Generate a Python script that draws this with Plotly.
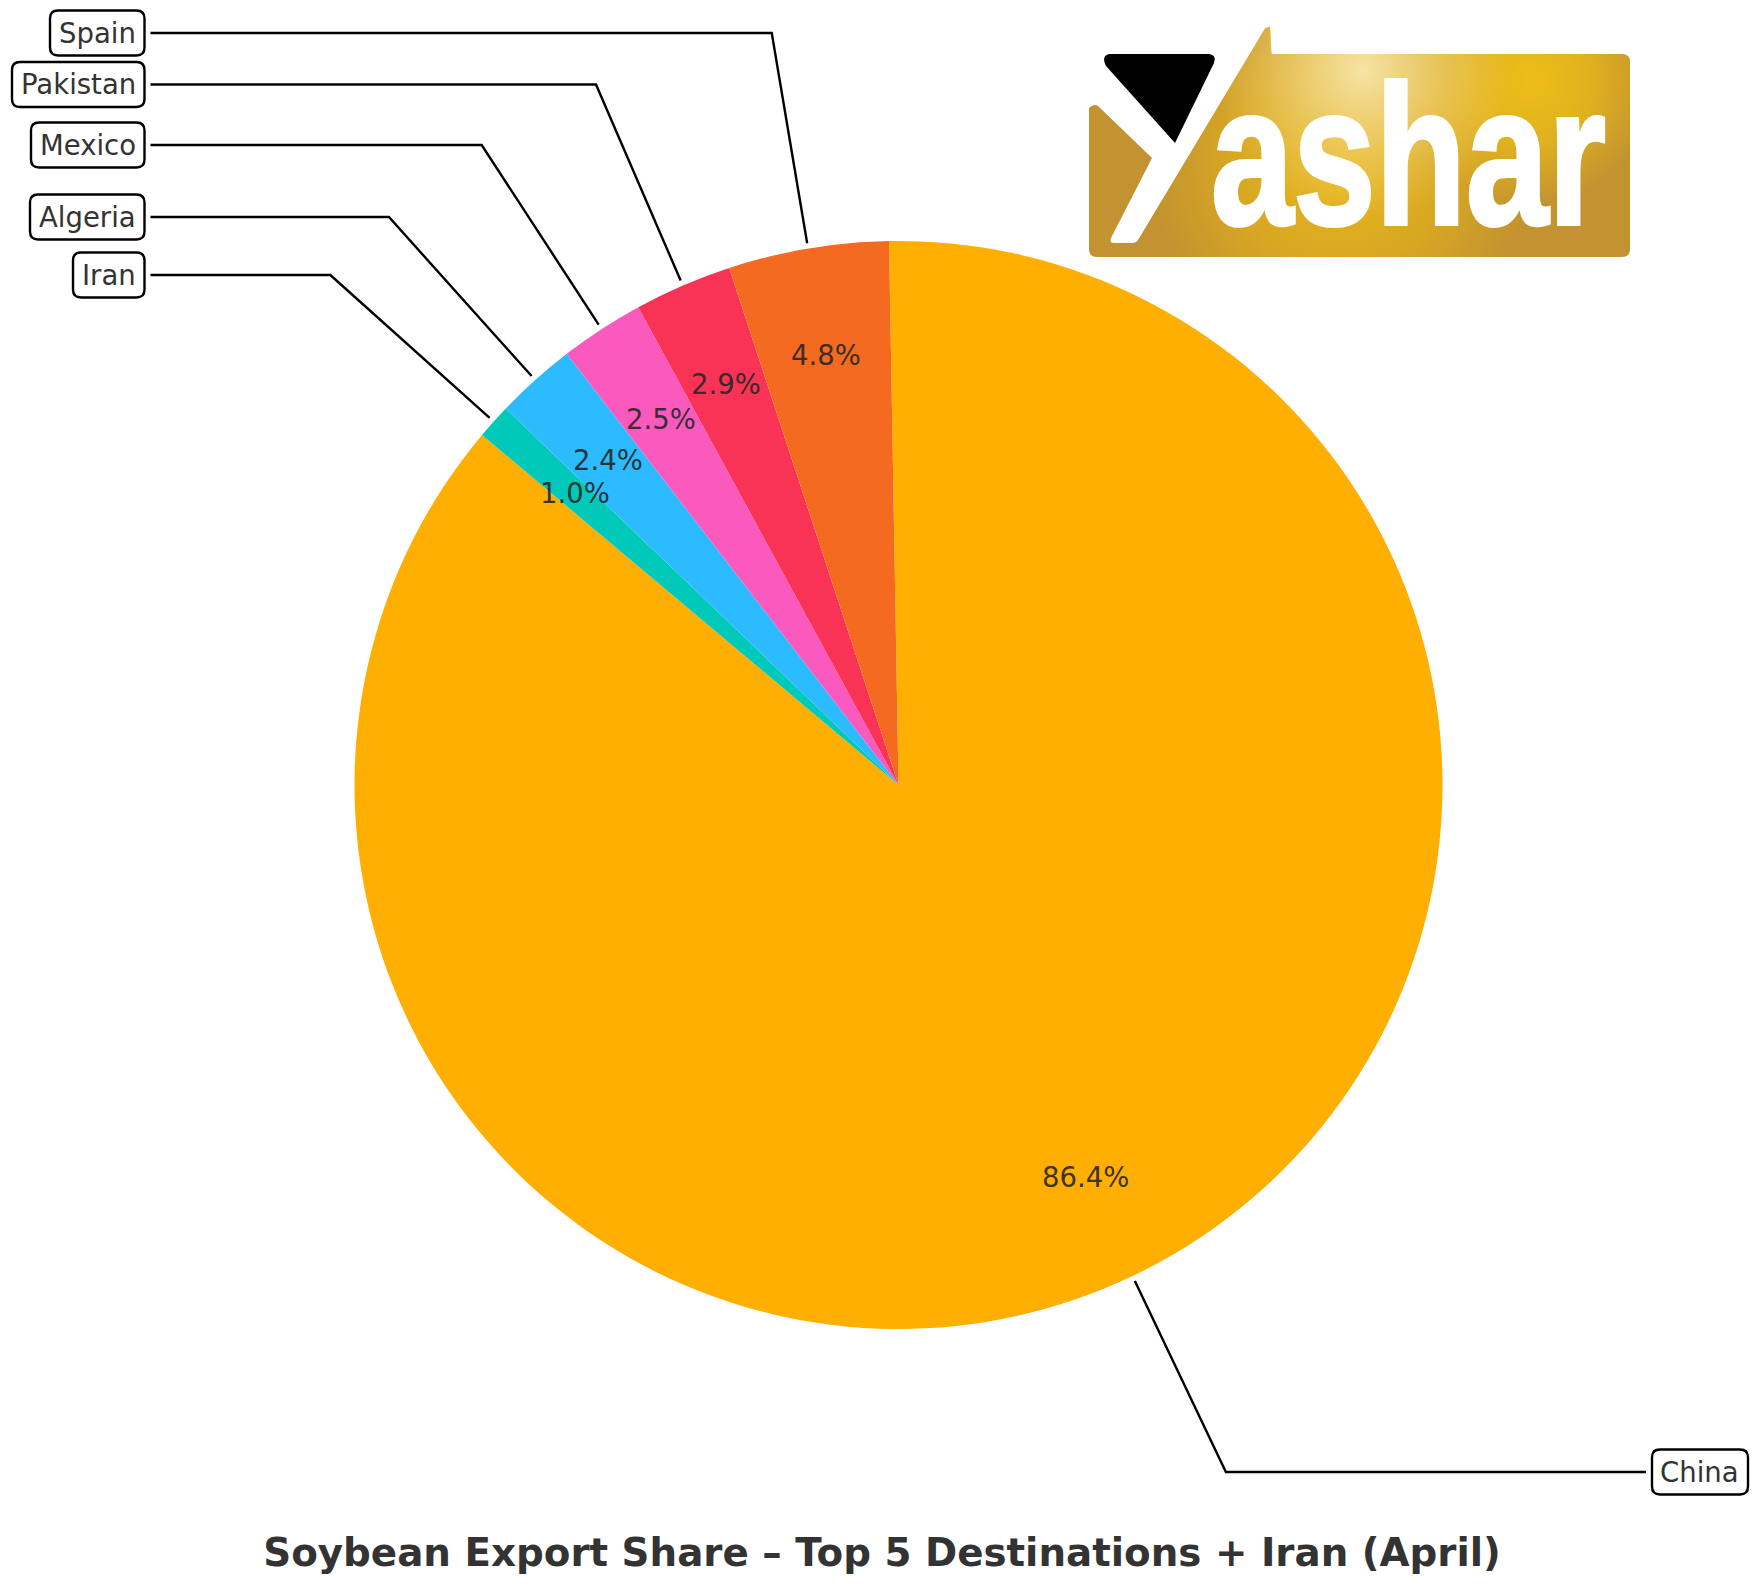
import base64
import math
import plotly.graph_objects as go

countries = ["China", "Iran", "Algeria", "Mexico", "Pakistan", "Spain"]
shares = [86.4, 1.04, 2.4, 2.5, 2.9, 4.76]
colors = ["#FFAE02", "#00C9BA", "#2BBBFE", "#FA59BE", "#F93356", "#F46A21"]

W, H = 1760, 1592
CX, CY, R = 898.5, 785.0, 544.0
START_ANGLE = -1.0

# callout boxes: y centre, left edge, right edge (pixels)
label_y = [1472, 275, 217, 145, 84.5, 33]
box_left = [1652, 73, 30, 31, 12, 50]
box_right = [1748, 144.5, 144.5, 144.5, 144.5, 144.5]
TEXT_COLOR = "#333333"


def px(x):
    return x / W


def py(y):
    return 1 - y / H


def round_box(x0, y0, x1, y1, r=8):
    return (
        f"M {px(x0 + r)},{py(y0)} L {px(x1 - r)},{py(y0)} Q {px(x1)},{py(y0)} {px(x1)},{py(y0 + r)} "
        f"L {px(x1)},{py(y1 - r)} Q {px(x1)},{py(y1)} {px(x1 - r)},{py(y1)} "
        f"L {px(x0 + r)},{py(y1)} Q {px(x0)},{py(y1)} {px(x0)},{py(y1 - r)} "
        f"L {px(x0)},{py(y0 + r)} Q {px(x0)},{py(y0)} {px(x0 + r)},{py(y0)} Z"
    )


# logo artwork, text part is a real annotation further down
logo_svg = """<svg xmlns="http://www.w3.org/2000/svg" width="560" height="245" viewBox="1080 20 560 245">
<defs>
<radialGradient id="a" gradientUnits="userSpaceOnUse" cx="1363" cy="70" r="150">
<stop offset="0" stop-color="#F6E4A6"/><stop offset="0.35" stop-color="#F3DA8C" stop-opacity="0.75"/><stop offset="1" stop-color="#F0D070" stop-opacity="0"/></radialGradient>
<radialGradient id="b" gradientUnits="userSpaceOnUse" cx="1530" cy="80" r="125">
<stop offset="0" stop-color="#EDBE17"/><stop offset="0.5" stop-color="#EDBE17" stop-opacity="0.7"/><stop offset="1" stop-color="#EDBE17" stop-opacity="0"/></radialGradient>
<radialGradient id="c" gradientUnits="userSpaceOnUse" cx="1340" cy="165" r="190">
<stop offset="0" stop-color="#E8B818"/><stop offset="0.55" stop-color="#E2B01E" stop-opacity="0.7"/><stop offset="1" stop-color="#E2B01E" stop-opacity="0"/></radialGradient>
<clipPath id="k"><path d="M1097 54H1281L1272 65L1270 27L1140 54H1097Z M1089 62Q1089 54 1097 54H1622Q1630 54 1630 62V249Q1630 257 1622 257H1097Q1089 257 1089 249Z"/></clipPath>
</defs>
<g clip-path="url(#k)"><rect x="1080" y="20" width="560" height="245" fill="#C29330"/>
<rect x="1080" y="20" width="560" height="245" fill="url(#c)"/>
<rect x="1080" y="20" width="560" height="245" fill="url(#b)"/>
<rect x="1080" y="20" width="560" height="245" fill="url(#a)"/></g>
<path d="M1080 20H1270L1138 240Q1136 243 1132 243H1114Q1109 243 1111 238L1152 158L1098 106Q1094 103 1089 108L1080 112Z" fill="#FFFFFF"/>
<path d="M1109 54H1209Q1217 55 1214 63L1175 143L1106 66Q1101 56 1109 54Z" fill="#000000"/>
</svg>"""
logo_src = "data:image/svg+xml;base64," + base64.b64encode(logo_svg.encode()).decode()

fig = go.Figure(
    go.Pie(
        labels=countries,
        values=shares,
        sort=False,
        direction="clockwise",
        rotation=START_ANGLE,
        marker=dict(colors=colors, line=dict(width=0)),
        textinfo="none",
        hoverinfo="label+percent",
        domain=dict(x=[px(CX - R), px(CX + R)], y=[py(CY + R), py(CY - R)]),
    )
)

shapes = []
annotations = []
total = sum(shares)
angle = START_ANGLE
for i, name in enumerate(countries):
    sweep = shares[i] / total * 360
    mid = math.radians(angle + sweep / 2)
    angle += sweep
    sx, sy = math.sin(mid), -math.cos(mid)

    # percentage inside the wedge
    annotations.append(dict(
        x=px(CX + 0.8 * R * sx), y=py(CY + 0.8 * R * sy - 1), xref="paper", yref="paper",
        text=f"{shares[i]:.1f}%", showarrow=False, xanchor="center", yanchor="middle",
        font=dict(family="DejaVu Sans", size=27.5, color="rgba(40,40,40,0.93)"),
    ))

    # leader line: horizontal from the box, then along the wedge's radius
    ex, ey = CX + 1.01 * R * sx, CY + 1.01 * R * sy
    elbow_x = CX + (label_y[i] - CY) * sx / sy
    line_x = box_left[i] - 6 if sx > 0 else box_right[i] + 6
    shapes.append(dict(
        type="path", xref="paper", yref="paper",
        path=f"M {px(line_x)},{py(label_y[i])} L {px(elbow_x)},{py(label_y[i])} L {px(ex)},{py(ey)}",
        line=dict(color="black", width=2.4),
    ))
    shapes.append(dict(
        type="path", xref="paper", yref="paper",
        path=round_box(box_left[i], label_y[i] - 22.5, box_right[i], label_y[i] + 22.5),
        line=dict(color="black", width=2.4), fillcolor="white",
    ))
    annotations.append(dict(
        x=px(box_right[i] - 7), y=py(label_y[i]), xref="paper", yref="paper",
        text=name, showarrow=False, xanchor="right", yanchor="middle",
        font=dict(family="DejaVu Sans", size=27.5, color=TEXT_COLOR),
    ))

annotations.append(dict(
    x=px(1408), y=py(155.5), xref="paper", yref="paper", text="<b>ashar</b>", showarrow=False,
    xanchor="center", yanchor="middle",
    font=dict(family="Liberation Sans", size=148, color="white"),
))

fig.update_layout(
    width=W,
    height=H,
    margin=dict(l=0, r=0, t=0, b=0),
    paper_bgcolor="white",
    showlegend=False,
    title=dict(
        text="<b>Soybean Export Share – Top 5 Destinations + Iran (April)</b>",
        x=px(882), y=py(1552), xanchor="center", yanchor="middle",
        font=dict(family="DejaVu Sans", size=38.8, color=TEXT_COLOR),
    ),
    shapes=shapes,
    annotations=annotations,
    images=[dict(
        source=logo_src, xref="paper", yref="paper", x=px(1080), y=py(20),
        sizex=560 / W, sizey=245 / H, xanchor="left", yanchor="top", sizing="stretch", layer="below",
    )],
)

# drop the page margin, stretch the logo word to its condensed shape
post = """
document.body.style.margin = '0';
document.querySelectorAll('.annotation-text').forEach(function (t) {
    if (t.textContent === 'ashar') {
        t.style.transformBox = 'fill-box';
        t.style.transformOrigin = 'center';
        t.style.transform = 'scale(1, 1.34)';
        t.style.stroke = 'white';
        t.style.strokeWidth = '3px';
    }
});
"""
fig.write_html("out.html", post_script=post, config=dict(displayModeBar=False))
